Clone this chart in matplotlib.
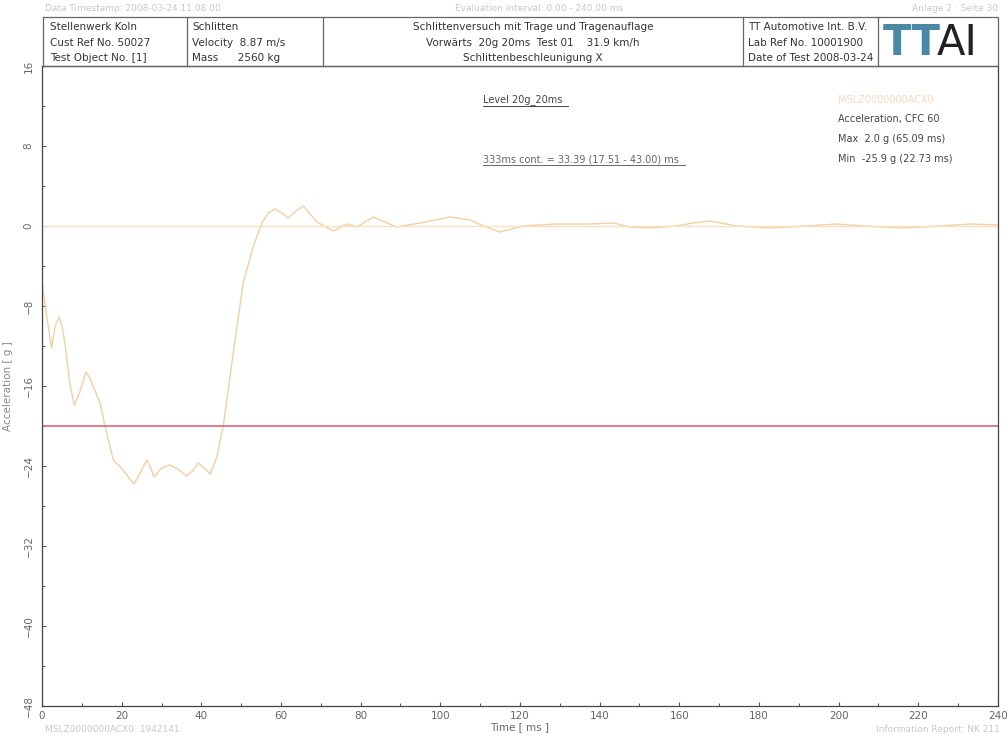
import matplotlib.pyplot as plt
from matplotlib.ticker import MultipleLocator

# curve (time in ms, acceleration in g)
time_ms = [0, 0.8, 2.4, 3.3, 4.3, 5.2, 6, 7, 8.1, 9.5, 11, 12, 13, 14.6, 15.8, 17.9,
           20.4, 22, 23.1, 24.5, 26.3, 27.2, 28.1, 30, 32.1, 34, 36.3, 37.8, 39.2,
           40.8, 42.2, 43.9, 45.5, 48, 50.5, 53, 55.2, 56.8, 58.5, 60.2, 61.8, 63.8,
           65.6, 67.3, 69, 73.1, 76.5, 79, 83.2, 89, 94.9, 102.4, 107.5, 110.8, 115,
           120.8, 129.2, 137.6, 143.4, 147.6, 152.6, 159.3, 163.5, 167.7, 174.4, 182.8,
           192, 199.5, 206.2, 215.4, 225.5, 233, 240]
accel_g = [-5.5, -8.0, -12.2, -10.0, -9.1, -10.3, -12.5, -15.8, -17.9, -16.6, -14.6,
           -15.2, -16.2, -17.7, -20.0, -23.4, -24.4, -25.3, -25.8, -24.8, -23.4, -24.1,
           -25.1, -24.2, -23.9, -24.3, -25.0, -24.5, -23.7, -24.2, -24.8, -23.1, -20.0,
           -12.7, -5.7, -2.1, 0.3, 1.3, 1.7, 1.3, 0.8, 1.5, 2.0, 1.2, 0.4, -0.5, 0.2,
           -0.1, 0.9, -0.1, 0.3, 0.9, 0.6, 0.0, -0.6, 0.0, 0.2, 0.2, 0.3, -0.1, -0.2,
           0.0, 0.3, 0.5, 0.0, -0.2, 0.0, 0.2, 0.0, -0.2, 0.0, 0.2, 0.1]
level_g = -20
x_ticks = list(range(0, 241, 20))
y_ticks = list(range(-48, 17, 8))

header_col1 = ["Stellenwerk Koln", "Cust Ref No. 50027", "Test Object No. [1]"]
header_col2 = ["Schlitten", "Velocity  8.87 m/s", "Mass      2560 kg"]
header_col3 = ["Schlittenversuch mit Trage und Tragenauflage",
               "Vorwärts  20g 20ms  Test 01    31.9 km/h",
               "Schlittenbeschleunigung X"]
header_col4 = ["TT Automotive Int. B.V.", "Lab Ref No. 10001900", "Date of Test 2008-03-24"]
info_lines = ["Acceleration, CFC 60", "Max  2.0 g (65.09 ms)", "Min  -25.9 g (22.73 ms)"]

W, H = 1008, 737
fig = plt.figure(figsize=(W / 100, H / 100), dpi=100)

# main plot area in pixel bounds: x 42..998, y 66..706
ax = fig.add_axes([42 / W, 1 - 706 / H, (998 - 42) / W, (706 - 66) / H])
ax.plot(time_ms, accel_g, color='#f3cfa6', lw=1.0)
ax.axhline(0, color='#f6e2bf', lw=1.0)
ax.axhline(level_g, color='#d9667a', lw=1.2)
ax.set_xlim(0, 240)
ax.set_ylim(-48, 16)
ax.set_xticks(x_ticks)
ax.set_yticks(y_ticks)
ax.xaxis.set_minor_locator(MultipleLocator(10))
ax.yaxis.set_minor_locator(MultipleLocator(4))
ax.tick_params(which='both', direction='in', colors='#555555', labelcolor='#666666',
               labelsize=7.5, length=3, width=0.8)
ax.tick_params(axis='y', pad=6)
ax.tick_params(which='minor', length=2)
for lab in ax.get_yticklabels():
    lab.set_rotation(90)
    lab.set_va('center')
ax.set_xlabel('Time [ ms ]', fontsize=7.5, color='#666666', labelpad=1)
ax.set_ylabel('Acceleration [ g ]', fontsize=7.5, color='#888888', labelpad=8)
for s in ax.spines.values():
    s.set_color('#444444')
    s.set_linewidth(0.9)

# overlay in pixel coords for header and annotations
ov = fig.add_axes([0, 0, 1, 1], zorder=5)
ov.set_xlim(0, W)
ov.set_ylim(H, 0)
ov.axis('off')
ov.patch.set_alpha(0)

lc = '#666666'
ov.plot([43, 998, 998, 43, 43], [17, 17, 66, 66, 17], color=lc, lw=0.9)
for xb in [187, 323, 743, 878]:
    ov.plot([xb, xb], [17, 66], color=lc, lw=0.9)

rows_y = [27, 43, 58]
fs = 7.5
for i, yy in enumerate(rows_y):
    ov.text(50, yy, header_col1[i], fontsize=fs, va='center', color='#333333')
    ov.text(192, yy, header_col2[i], fontsize=fs, va='center', color='#333333')
    ov.text(533, yy, header_col3[i], fontsize=fs, va='center', ha='center', color='#333333')
    ov.text(748, yy, header_col4[i], fontsize=fs, va='center', color='#333333')

ov.text(883, 43, 'TT', fontsize=30, va='center', color='#4a88a6', fontweight='bold')
ov.text(937, 43, 'AI', fontsize=30, va='center', color='#222222')

# faint page text
pg = '#c8c8c8'
ov.text(45, 8, 'Data Timestamp: 2008-03-24 11:08:00', fontsize=6.5, va='center', color=pg)
ov.text(455, 8, 'Evaluation interval: 0.00 - 240.00 ms', fontsize=6.5, va='center', color=pg)
ov.text(998, 8, 'Anlage 2 · Seite 30', fontsize=6.5, va='center', ha='right', color=pg)
ov.text(45, 730, 'MSLZ0000000ACX0  1942141', fontsize=6.5, va='center', color=pg)
ov.text(1000, 730, 'Information Report: NK 211', fontsize=6.5, va='center', ha='right', color=pg)

# annotations inside plot
ov.text(483, 100, 'Level 20g_20ms', fontsize=7, va='center', color='#444444')
ov.plot([483, 568], [106, 106], color='#444444', lw=0.7)
ov.text(483, 159, '333ms cont. = 33.39 (17.51 - 43.00) ms', fontsize=7, va='center',
        color='#666666')
ov.plot([483, 685], [165, 165], color='#666666', lw=0.7)

ov.text(838, 100, 'MSLZ0000000ACX0', fontsize=7, va='center', color='#f7d9bd')
for i, line in enumerate(info_lines):
    ov.text(838, 119 + i * 20, line, fontsize=7, va='center', color='#444444')

fig.savefig('out.png', dpi=100)
